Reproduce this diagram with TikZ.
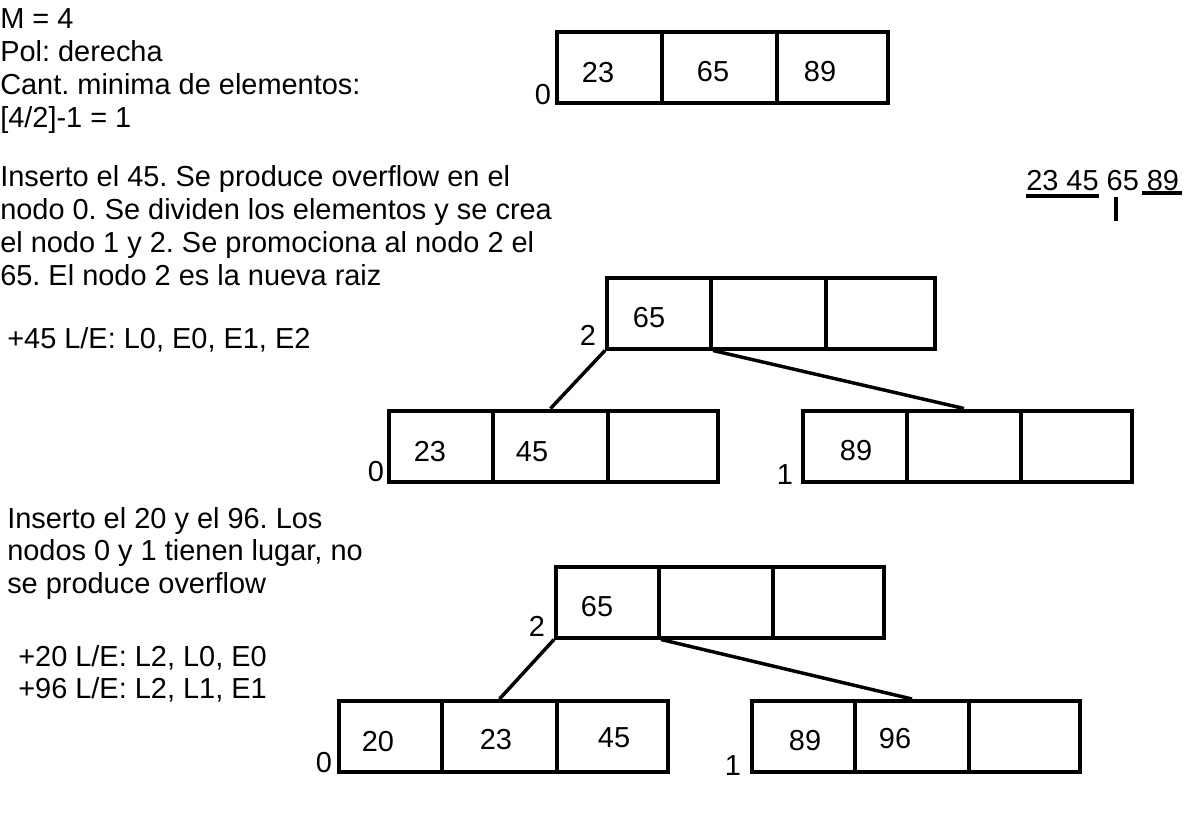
\documentclass[tikz,border=0pt]{standalone}
\usepackage{fontspec}
\setmainfont{Liberation Sans}
\begin{document}
\frenchspacing
\begin{tikzpicture}[x=0.75pt,y=-0.75pt,
  fs/.style={font=\fontsize{21.7pt}{26pt}\selectfont},
  txt/.style={fs, anchor=base west, inner sep=0pt},
  num/.style={fs, anchor=center, inner sep=0pt},
  cell/.style={draw, line width=3pt, inner sep=0pt, minimum height={71*0.75pt}, minimum width={#1*0.75pt}},
  conn/.style={line width=2.6pt},
  mark line/.style={line width=3.4pt}]
\useasboundingbox (0,0) rectangle (1204,822);

% header text
\node[txt] (h1) at (0,28) {M = 4};
\node[txt] (h2) at (0,61) {Pol: derecha};
\node[txt] (h3) at (0,94) {Cant. minima de elementos:};
\node[txt] (h4) at (0,127) {[4/2]-1 = 1};

% top box
\node[cell=105] (t0a) at (609.5,67.5) {};
\node[cell=115] (t0b) at (719.5,67.5) {};
\node[cell=111] (t0c) at (832.5,67.5) {};
\node[num] (t0n1) at (598,73) {23};
\node[num] (t0n2) at (713,72) {65};
\node[num] (t0n3) at (820,72) {89};
\node[num] (t0l) at (543,95) {0};

% paragraph 1
\node[txt] (p1) at (0,186) {Inserto el 45. Se produce overflow en el};
\node[txt] (p2) at (0,219) {nodo 0. Se dividen los elementos y se crea};
\node[txt] (p3) at (0,252) {el nodo 1 y 2. Se promociona al nodo 2 el};
\node[txt] (p4) at (0,285) {65. El nodo 2 es la nueva raiz};
\node[txt] (p5) at (7,348) {+45 L/E: L0, E0, E1, E2};

% split annotation
\node[txt] (sp) at (1026,190) {23 45 65 89};
\draw[mark line] (1026,196) -- (1099,196);
\draw[mark line] (1142,193) -- (1182,193);
\draw[mark line] (1116,197) -- (1116,221);

% tree 1
\node[cell=104] (r1a) at (659,313) {};
\node[cell=115] (r1b) at (768.5,313) {};
\node[cell=109] (r1c) at (880.5,313) {};
\node[num] (r1n) at (649,318) {65};
\node[num] (r1l) at (588,335) {2};

\node[cell=104] (a1a) at (441,446) {};
\node[cell=115] (a1b) at (550.5,446) {};
\node[cell=110] (a1c) at (663,446) {};
\node[num] (a1n1) at (430,452) {23};
\node[num] (a1n2) at (532,452) {45};
\node[num] (a1l) at (376,472) {0};

\node[cell=104] (b1a) at (855,446) {};
\node[cell=114] (b1b) at (964,446) {};
\node[cell=111] (b1c) at (1076.5,446) {};
\node[num] (b1n1) at (856,451) {89};
\node[num] (b1l) at (785,475) {1};

\draw[conn] (r1a.south west) -- (a1b.north);
\draw[conn] (r1a.south east) -- (b1b.north);

% paragraph 2
\node[txt] (q1) at (7,528) {Inserto el 20 y el 96. Los};
\node[txt] (q2) at (7,560) {nodos 0 y 1 tienen lugar, no};
\node[txt] (q3) at (7,593) {se produce overflow};
\node[txt] (q4) at (18,666) {+20 L/E: L2, L0, E0};
\node[txt] (q5) at (18,698) {+96 L/E: L2, L1, E1};

% tree 2
\node[cell=103] (r2a) at (607.5,602) {};
\node[cell=114] (r2b) at (716,602) {};
\node[cell=111] (r2c) at (828.5,602) {};
\node[num] (r2n) at (597,607) {65};
\node[num] (r2l) at (537,626) {2};

\node[cell=103] (a2a) at (390.5,736.5) {};
\node[cell=115] (a2b) at (499.5,736.5) {};
\node[cell=111] (a2c) at (612.5,736.5) {};
\node[num] (a2n1) at (378,742) {20};
\node[num] (a2n2) at (496,740) {23};
\node[num] (a2n3) at (614,738) {45};
\node[num] (a2l) at (324,763) {0};

\node[cell=103] (b2a) at (803.5,736.5) {};
\node[cell=114] (b2b) at (912,736.5) {};
\node[cell=111] (b2c) at (1024.5,736.5) {};
\node[num] (b2n1) at (805,741) {89};
\node[num] (b2n2) at (895,739) {96};
\node[num] (b2l) at (733,766) {1};

\draw[conn] (r2a.south west) -- (a2b.north);
\draw[conn] (r2a.south east) -- (b2b.north);
\end{tikzpicture}
\end{document}
